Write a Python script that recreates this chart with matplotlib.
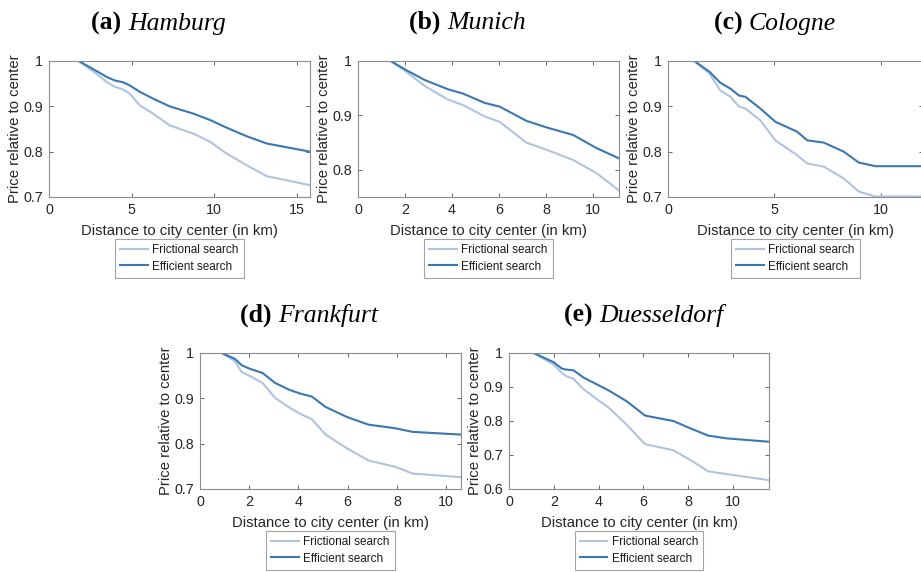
import matplotlib
matplotlib.use('Agg')
import matplotlib.pyplot as plt

# distance (km) and relative price
ham_x = [1.8, 2.87, 3.48, 3.98, 4.49, 4.89, 5.5, 6.3, 7.3, 8.73, 9.74, 10.75, 11.97, 13.18, 15.8]
ham_fric = [1.0, 0.972, 0.954, 0.943, 0.937, 0.928, 0.902, 0.884, 0.858, 0.840, 0.822, 0.796, 0.770, 0.746, 0.726]
ham_eff = [1.0, 0.978, 0.965, 0.957, 0.953, 0.946, 0.932, 0.917, 0.900, 0.884, 0.870, 0.853, 0.834, 0.818, 0.800]

mun_x = [1.39, 2.06, 2.84, 3.83, 4.47, 5.39, 6.03, 7.16, 8.01, 9.15, 10.14, 11.1]
mun_fric = [1.0, 0.980, 0.954, 0.929, 0.919, 0.898, 0.888, 0.850, 0.837, 0.818, 0.794, 0.762]
mun_eff = [1.0, 0.983, 0.965, 0.948, 0.940, 0.923, 0.916, 0.890, 0.878, 0.864, 0.840, 0.821]

col_x = [1.24, 1.96, 2.46, 2.94, 3.33, 3.64, 4.35, 5.05, 6.08, 6.55, 7.33, 8.27, 8.98, 9.76, 12.0]
col_fric = [1.0, 0.972, 0.935, 0.921, 0.900, 0.895, 0.869, 0.825, 0.792, 0.774, 0.767, 0.741, 0.712, 0.701, 0.701]
col_eff = [1.0, 0.976, 0.952, 0.939, 0.924, 0.921, 0.895, 0.866, 0.844, 0.825, 0.820, 0.800, 0.776, 0.768, 0.768]

fra_x = [0.88, 1.42, 1.69, 2.03, 2.54, 3.05, 3.62, 4.1, 4.54, 5.1, 5.96, 6.84, 7.93, 8.64, 10.61]
fra_fric = [1.0, 0.982, 0.958, 0.949, 0.934, 0.901, 0.880, 0.865, 0.854, 0.820, 0.790, 0.763, 0.749, 0.734, 0.726]
fra_eff = [1.0, 0.987, 0.973, 0.965, 0.956, 0.934, 0.919, 0.910, 0.904, 0.881, 0.859, 0.842, 0.834, 0.826, 0.820]

due_x = [1.1, 1.99, 2.36, 2.58, 2.88, 3.32, 3.88, 4.47, 5.25, 6.07, 7.33, 8.07, 8.89, 9.7, 11.6]
due_fric = [1.0, 0.966, 0.941, 0.931, 0.924, 0.894, 0.866, 0.838, 0.789, 0.732, 0.714, 0.686, 0.652, 0.644, 0.626]
due_eff = [1.0, 0.973, 0.954, 0.951, 0.949, 0.928, 0.909, 0.889, 0.858, 0.816, 0.800, 0.779, 0.757, 0.749, 0.739]

panels = [
  # letter, city, x, fric, eff, xlim, xticks, ylim, yticks, ytick labels
  ('(a)', 'Hamburg', ham_x, ham_fric, ham_eff, 15.8, [0, 5, 10, 15], 0.7, [0.7, 0.8, 0.9, 1.0], ['0.7', '0.8', '0.9', '1']),
  ('(b)', 'Munich', mun_x, mun_fric, mun_eff, 11.1, [0, 2, 4, 6, 8, 10], 0.75, [0.8, 0.9, 1.0], ['0.8', '0.9', '1']),
  ('(c)', 'Cologne', col_x, col_fric, col_eff, 12.0, [0, 5, 10], 0.7, [0.7, 0.8, 0.9, 1.0], ['0.7', '0.8', '0.9', '1']),
  ('(d)', 'Frankfurt', fra_x, fra_fric, fra_eff, 10.6, [0, 2, 4, 6, 8, 10], 0.7, [0.7, 0.8, 0.9, 1.0], ['0.7', '0.8', '0.9', '1']),
  ('(e)', 'Duesseldorf', due_x, due_fric, due_eff, 11.6, [0, 2, 4, 6, 8, 10], 0.6, [0.6, 0.7, 0.8, 0.9, 1.0], ['0.6', '0.7', '0.8', '0.9', '1']),
]

# pixel boxes (left, top, width, height) and title centre / baseline
W, H = 921.0, 572.0
boxes = [(49, 61, 261, 136), (358, 61, 261, 136), (668, 61, 255, 136),
         (200, 353, 261, 136), (509, 353, 260, 136)]
title_pos = [(158.5, 30), (467.5, 29), (775, 30), (309, 322), (644, 322)]

light = '#aec4e0'
dark = '#3a77b3'
sans = 'Liberation Sans'
serif = 'Liberation Serif'

fig = plt.figure(figsize=(9.21, 5.72), dpi=100)

titles = []
for (letter, city, x, fric, eff, xmax, xt, ymin, yt, ytl), (l, t, w, h), tp in zip(panels, boxes, title_pos):
  ax = fig.add_axes([l / W, (H - t - h) / H, w / W, h / H])
  ax.plot(x, fric, color=light, lw=1.5, label='Frictional search')
  ax.plot(x, eff, color=dark, lw=1.5, label='Efficient search')
  ax.set_xlim(0, xmax)
  ax.set_ylim(ymin, 1.0)
  ax.set_xticks(xt)
  ax.set_xticklabels([str(v) for v in xt])
  ax.set_yticks(yt)
  ax.set_yticklabels(ytl)
  ax.tick_params(direction='in', top=True, right=True, length=3, width=0.6,
                 color='#4d4d4d', labelsize=10.3, labelcolor='#262626', pad=4.5)
  for item in ax.get_xticklabels() + ax.get_yticklabels():
    item.set_fontfamily(sans)
  for sp in ax.spines.values():
    sp.set_color('#8c8c8c')
    sp.set_linewidth(0.8)
  ax.set_xlabel('Distance to city center (in km)', fontsize=10.7, family=sans, color='#262626', labelpad=4.5)
  ax.set_ylabel('Price relative to center', fontsize=10.7, family=sans, color='#262626', labelpad=1)
  leg = ax.legend(loc='upper center', bbox_to_anchor=(0.5, -0.31), ncol=1, fancybox=False,
                  prop={'family': sans, 'size': 8.5}, handlelength=2.3, borderpad=0.45,
                  labelspacing=0.35, handletextpad=0.4, borderaxespad=0)
  leg.get_frame().set_edgecolor('#8c8c8c')
  leg.get_frame().set_linewidth(0.8)
  for txt in leg.get_texts():
    txt.set_color('#1a1a1a')

  t1 = fig.text(0, 1 - tp[1] / H, letter + ' ', family=serif, weight='bold', size=18.5, va='baseline')
  t2 = fig.text(0, 1 - tp[1] / H, city, family=serif, style='italic', size=18.5, va='baseline')
  titles.append((t1, t2, tp[0]))

# centre each two-part title on its position
fig.canvas.draw()
r = fig.canvas.get_renderer()
for t1, t2, cx in titles:
  w1 = t1.get_window_extent(r).width
  w2 = t2.get_window_extent(r).width
  x0 = cx - (w1 + w2) / 2.0
  t1.set_x(x0 / W)
  t2.set_x((x0 + w1) / W)

plt.savefig('out.png', dpi=100)
